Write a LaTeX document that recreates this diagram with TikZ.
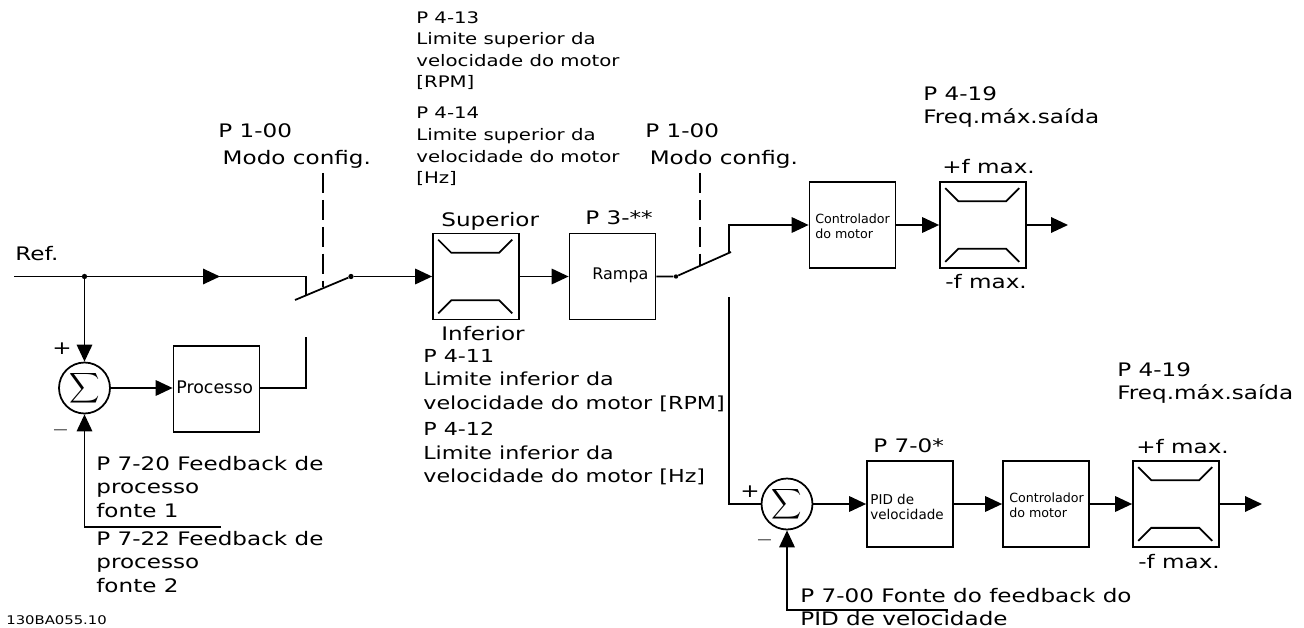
\documentclass[tikz,border=0pt]{standalone}
\usepackage{fontspec}
\setmainfont[FakeStretch=1.24]{DejaVu Sans}
\newfontfamily\boxfont{DejaVu Sans}
\usepackage{amsmath, amssymb}
\usetikzlibrary{
  arrows.meta,
  positioning
}
\tikzset{
    wire/.style={line width=1pt},
    flow/.style={wire, -{Triangle[length=0.34cm,width=0.31cm]}},
    blockbox/.style={draw, line width=1pt, minimum width=1.72cm, minimum height=1.72cm, inner sep=1pt, align=left},
    sumnode/.style={draw, circle, line width=1pt, minimum size=1.02cm, inner sep=0pt, font=\fontsize{12}{14}\selectfont},
    lbl/.style={anchor=north west, inner sep=0pt, align=left, font=\fontsize{10.6}{13.4}\selectfont},
    toplbl/.style={lbl, font=\fontsize{9.05}{12.3}\selectfont},
    midlbl/.style={lbl, font=\fontsize{10.2}{13.4}\selectfont},
    modolbl/.style={lbl, font=\fontsize{10.6}{15.3}\selectfont},
    signlbl/.style={anchor=base west, inner sep=0pt, font=\fontsize{6.6}{8}\selectfont},
    boxlbl/.style={anchor=west, inner sep=0pt, align=left, font=\boxfont\fontsize{7.2}{8.6}\selectfont},
    dot/.style={circle, fill, inner sep=0pt, minimum size=3pt},
    switchdash/.style={wire, dash pattern=on 11.5pt off 3.8pt}
}
% draws the two bent bars of a limiter block
\newcommand{\limiterbars}[1]{
    \draw[wire] ([shift={(6,7)}]#1.north west) -- ++(13,13) -- ++(48,0) -- ++(13,-13);
    \draw[wire] ([shift={(6,-7)}]#1.south west) -- ++(13,-13) -- ++(48,0) -- ++(13,13);
}
\begin{document}
\begin{tikzpicture}[x=0.02cm, y=-0.02cm]
    \useasboundingbox (0,0) rectangle (1304,628);

    % upper path
    \node[lbl] (ref) at (15,246) {Ref.};
    \coordinate (start) at (14,276.5);
    \node[dot] (tap) at (84.5,276.5) {};
    \coordinate (flowmid) at (220,276.5);
    \coordinate (swa) at (306,276.5);
    \coordinate (swb) at (306,296);
    \coordinate (bladea) at (295,300);
    \node[dot] (bladeb) at (351,276.5) {};
    \coordinate (dasha) at (323,173);
    \coordinate (dashb) at (323,287);

    \node[blockbox] (limit) at (476,276.5) {};
    \limiterbars{limit}
    \node[blockbox] (ramp) at (612.5,276.5) {};
    \node[boxlbl, font=\boxfont\fontsize{9.1}{11}\selectfont] (ramptxt) at (592,275) {Rampa};
    \node[dot, minimum size=2.5pt] (bladec) at (676,276.5) {};
    \coordinate (blade2) at (731,252);
    \coordinate (up2) at (729,253);
    \coordinate (upcorner) at (729,225);
    \coordinate (dash2a) at (700,173);
    \coordinate (dash2b) at (700,266);

    \node[blockbox] (ctrl) at (852.5,225) {};
    \node[boxlbl] (ctrltxt) at (815,226) {Controlador\\do motor};
    \node[blockbox] (fmax) at (983,225) {};
    \limiterbars{fmax}
    \coordinate (out) at (1068,225);

    % process loop
    \node[sumnode] (sum) at (84.5,388) {$\displaystyle\sum$};
    \node[blockbox] (proc) at (216.5,389) {};
    \node[boxlbl, font=\boxfont\fontsize{9.9}{12}\selectfont] (proctxt) at (176,387) {Processo};
    \coordinate (procback) at (306,388);
    \coordinate (procup) at (306,337);
    \coordinate (fb) at (84.5,527);
    \coordinate (fbend) at (221,527);

    % lower path
    \coordinate (down) at (729,297);
    \coordinate (downcorner) at (729,504);
    \node[sumnode] (sumb) at (787,504) {$\displaystyle\sum$};
    \node[blockbox] (pid) at (910,504) {};
    \node[boxlbl, font=\boxfont\fontsize{7.7}{9}\selectfont] (pidtxt) at (870,507) {PID de\\velocidade};
    \node[blockbox] (ctrlb) at (1046,504) {};
    \node[boxlbl] (ctrlbtxt) at (1009,505.5) {Controlador\\do motor};
    \node[blockbox] (fmaxb) at (1176,504) {};
    \limiterbars{fmaxb}
    \coordinate (outb) at (1262,504);
    \coordinate (fbb) at (787,610);
    \coordinate (fbbend) at (948,610);

    % connectors
    \draw[wire] (start) -- (tap) -- (swa) -- (swb);
    \draw[flow] (start) -- (flowmid);
    \draw[wire] (bladea) -- (bladeb);
    \draw[switchdash] (dasha) -- (dashb);
    \draw[flow] (bladeb) -- (limit.west);
    \draw[flow] (limit.east) -- (ramp.west);
    \draw[wire] (ramp.east) -- (bladec) -- (blade2);
    \draw[switchdash] (dash2a) -- (dash2b);
    \draw[flow] (up2) -- (upcorner) -- (ctrl.west);
    \draw[flow] (ctrl.east) -- (fmax.west);
    \draw[flow] (fmax.east) -- (out);
    \draw[flow] (tap) -- (sum.north);
    \draw[flow] (sum.east) -- (sum.east -| proc.west);
    \draw[wire] (proc.east |- procback) -- (procback) -- (procup);
    \draw[flow] (fbend) -- (fb) -- (sum.south);
    \draw[wire] (down) -- (downcorner) -- (sumb.west);
    \draw[flow] (sumb.east) -- (pid.west);
    \draw[flow] (pid.east) -- (ctrlb.west);
    \draw[flow] (ctrlb.east) -- (fmaxb.west);
    \draw[flow] (fmaxb.east) -- (outb);
    \draw[flow] (fbbend) -- (fbb) -- (sumb.south);

    % labels
    \node[lbl] (plus) at (52,342) {+};
    \node[signlbl] (minus) at (53,433.6) {---};
    \node[lbl] (plusb) at (740,485) {+};
    \node[signlbl] (minusb) at (757,543.6) {---};
    \node[modolbl] (modoa) at (218,123) {P 1-00\\\hspace*{2.5pt}Modo config.};
    \node[modolbl] (modob) at (645,123) {P 1-00\\\hspace*{2.5pt}Modo config.};
    \node[toplbl] (plimsup) at (416,11) {P 4-13\\Limite superior da\\velocidade do motor\\{[RPM]}};
    \node[toplbl] (plimsupb) at (416,107) {P 4-14\\Limite superior da\\velocidade do motor\\{[Hz]}};
    \node[lbl] (sup) at (441,212) {Superior};
    \node[lbl] (inf) at (441,326) {Inferior};
    \node[lbl] (pramp) at (585,210) {P 3-**};
    \node[midlbl] (pinf) at (423,349) {P 4-11\\Limite inferior da\\velocidade do motor [RPM]};
    \node[midlbl] (pinfb) at (423,422) {P 4-12\\Limite inferior da\\velocidade do motor [Hz]};
    \node[lbl] (pfreq) at (923,86) {P 4-19\\Freq.máx.saída};
    \node[lbl] (pfreqb) at (1117,362) {P 4-19\\Freq.máx.saída};
    \node[lbl] (fup) at (942,159) {+f max.};
    \node[lbl] (fdown) at (945,274) {-f max.};
    \node[lbl] (pspeed) at (873,438) {P 7-0*};
    \node[lbl] (fupb) at (1136,439) {+f max.};
    \node[lbl] (fdownb) at (1138,554) {-f max.};
    \node[lbl] (pfb) at (96,455.5) {P 7-20 Feedback de\\processo\\fonte 1};
    \node[lbl] (pfbb) at (96,530.5) {P 7-22 Feedback de\\processo\\fonte 2};
    \node[lbl] (pfont) at (800,587.5) {P 7-00 Fonte do feedback do\\PID de velocidade};
    \node[lbl, font=\fontsize{6.8}{9}\selectfont] (code) at (6,615) {130BA055.10};
\end{tikzpicture}
\end{document}
